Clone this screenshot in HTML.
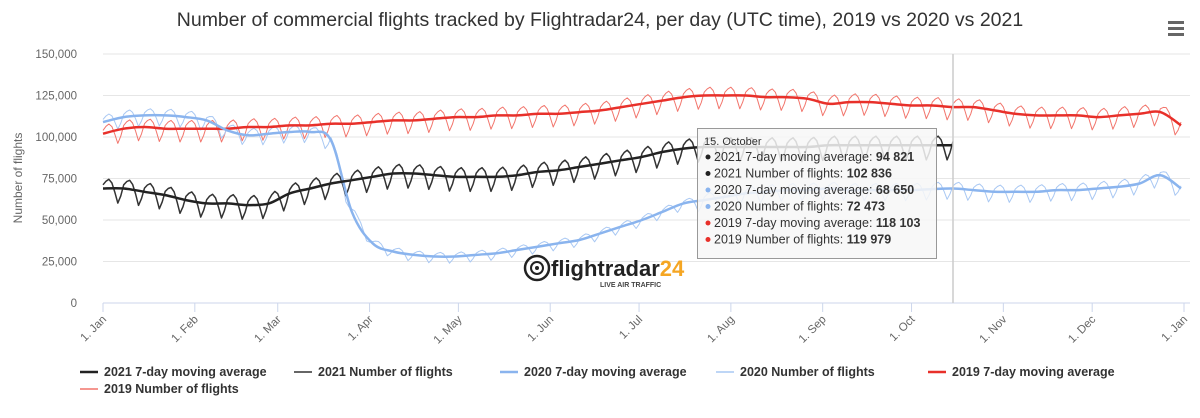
<!DOCTYPE html>
<html><head><meta charset="utf-8"><style>
body{margin:0;background:#fff;font-family:"Liberation Sans",sans-serif;}
svg text{font-family:"Liberation Sans",sans-serif;}
</style></head><body>
<svg id="c" width="1200" height="413" xmlns="http://www.w3.org/2000/svg">
<text x="600" y="26" text-anchor="middle" font-size="19.5" fill="#333">Number of commercial flights tracked by Flightradar24, per day (UTC time), 2019 vs 2020 vs 2021</text>
<g><rect x="1168" y="21" width="16" height="3" fill="#666"/><rect x="1168" y="27" width="16" height="3" fill="#666"/><rect x="1168" y="33" width="16" height="3" fill="#666"/></g>
<text transform="translate(22,178) rotate(-90)" text-anchor="middle" font-size="12" fill="#666">Number of flights</text>
<g id="grid"></g><g id="xax"></g>
<g>
<circle cx="537" cy="268" r="12" fill="none" stroke="#222" stroke-width="2.5"/><circle cx="537" cy="268" r="6" fill="none" stroke="#222" stroke-width="2"/><circle cx="537" cy="268" r="2" fill="#222"/>
<text x="551" y="276" font-size="22" fill="#222" font-weight="bold">flightradar<tspan fill="#f5a623">24</tspan></text>
<text x="600" y="287" font-size="7" fill="#444" font-weight="bold">LIVE AIR TRAFFIC</text></g>
<g id="series"></g>
<line x1="953" y1="54" x2="953" y2="303" stroke="#ccc" stroke-width="1.5"/>
<g>
<rect x="697.5" y="128.5" width="239" height="130" fill="rgba(247,247,247,0.85)" stroke="#999" stroke-width="1"/>
<text x="704" y="145" font-size="11" fill="#333">15. October</text>
<g id="tt"></g></g>
<g id="legend"></g>
</svg>
<script>
const yTicks=[0,25000,50000,75000,100000,125000,150000];
const months=["1. Jan","1. Feb","1. Mar","1. Apr","1. May","1. Jun","1. Jul","1. Aug","1. Sep","1. Oct","1. Nov","1. Dec","1. Jan"];
const monthDays=[0,31,59,90,120,151,181,212,243,273,304,334,365];
// weekly knots (every 7 days), thousands of flights
const ma2019=[102,105,106,105,105,105,105,106,106,107,107,108,108,109,110,110,111,112,112,113,113,114,114,115,116,118,120,122,124,125,125,125,124,124,123,120,121,121,120,119,119,118,118,116,114,113,113,113,112,113,114,115,107];
const ma2020=[109,112,113,113,112,110,104,101,102,103,103,98,55,36,31,29,28,28,29,30,32,34,36,38,42,46,50,55,60,62,64,66,67,68,68,69,68,68,68,68,68.6,69,68,67,67,67,68,68,69,70,72,77,69];
const ma2021=[69,69,67,65,62,60,60,59,60,66,69,72,74,76,78,78,77,76,76,76,77,79,80,82,84,86,88,91,93,94,94,94,94,94,94,95,95,95,95,95,95,95];
const weekdayOffset=[2,4,5,3,-2,-8,-4];
const ttLabels=["2021 7-day moving average: ","2021 Number of flights: ","2020 7-day moving average: ","2020 Number of flights: ","2019 7-day moving average: ","2019 Number of flights: "];
const ttValues=["94 821","102 836","68 650","72 473","118 103","119 979"];
const NS="http://www.w3.org/2000/svg";
const X=d=>103+d*(1081/365), Y=v=>303-v*(249/150000);
function mk(t,a,p){const e=document.createElementNS(NS,t);for(const k in a)e.setAttribute(k,a[k]);p.appendChild(e);return e;}
const grid=document.getElementById('grid');
yTicks.forEach(v=>{
 const l=mk('line',{x1:103,x2:1190,y1:Y(v),y2:Y(v),stroke:v?'#e6e6e6':'#ccd6eb','stroke-width':1},grid);
 
 
 const t=mk('text',{x:77,y:Y(v)+4,'text-anchor':'end','font-size':11.5,fill:'#666'},grid);t.textContent=v.toLocaleString('en-US');
 
 
});
const xax=document.getElementById('xax');
months.forEach((m,i)=>{
 const x=X(monthDays[i]);
 mk('line',{x1:x,x2:x,y1:303,y2:312,stroke:'#ccd6eb'},xax);
 const t=mk('text',{transform:`translate(${x+4},${320}) rotate(-45)`,'text-anchor':'end','font-size':11.5,fill:'#666'},xax);t.textContent=m;
 
 
});
function maAt(arr,d){const i=Math.min(Math.floor(d/7),arr.length-2),f=(d-i*7)/7;return (arr[i]*(1-f)+arr[i+1]*f)*1000;}
function pathPts(pts){return pts.map((p,i)=>(i?'L':'M')+p[0].toFixed(1)+','+p[1].toFixed(1)).join('');}
function smoothPath(p){
 let s='M'+p[0][0].toFixed(1)+','+p[0][1].toFixed(1);
 for(let i=0;i<p.length-1;i++){
  const p0=p[i-1]||p[i],p1=p[i],p2=p[i+1],p3=p[i+2]||p2;
  const c1=[p1[0]+(p2[0]-p0[0])/6,p1[1]+(p2[1]-p0[1])/6],c2=[p2[0]-(p3[0]-p1[0])/6,p2[1]-(p3[1]-p1[1])/6];
  s+=`C${c1[0].toFixed(1)},${c1[1].toFixed(1)} ${c2[0].toFixed(1)},${c2[1].toFixed(1)} ${p2[0].toFixed(1)},${p2[1].toFixed(1)}`;
 }
 return s;
}
const S=document.getElementById('series');
function draw(arr,days,color,w,scale,name,daily){
 const pts=[];let d;
 if(!daily){arr.forEach((v,i)=>{if(i*7<=days)pts.push([X(i*7),Y(v*1000)]);});d=smoothPath(pts);}
 else{for(let k=0;k<=days;k++){const base=maAt(arr,k);const sc=typeof scale==='function'?scale(k):scale;pts.push([X(k),Y(base+weekdayOffset[k%7]*1000*sc)]);}d=pathPts(pts);}
 const p=mk('path',{d:d,fill:'none',stroke:color,'stroke-width':w,'stroke-linejoin':'round'},S);
 
 
}
draw(ma2019,364,'#f2756c',1,1,'series-2019-daily',true);
draw(ma2020,364,'#a9c8f3',1,d=>d>85&&d<200?0.5:0.8,'series-2020-daily',true);
draw(ma2021,287,'#333',1.5,1.1,'series-2021-daily',true);
draw(ma2019,364,'#e8302a',2.5,0,'series-2019-ma',false);
draw(ma2020,364,'#8ab4ee',2.5,0,'series-2020-ma',false);
draw(ma2021,287,'#222',2.5,0,'series-2021-ma',false);
const tt=document.getElementById('tt');
const ttCol=['#222','#222','#8ab4ee','#8ab4ee','#e8302a','#e8302a'];
ttLabels.forEach((l,i)=>{const y=161+i*16.5;
 mk('circle',{cx:708,cy:y-4,r:2.5,fill:ttCol[i]},tt);
 const t=mk('text',{x:714,y:y,'font-size':12.5,fill:'#333'},tt);t.textContent=l;
 const b=mk('tspan',{'font-weight':'bold'},t);b.textContent=ttValues[i];
 
 
});
const lg=document.getElementById('legend');
const legend=[["2021 7-day moving average",'#222',2.5,80,376],["2021 Number of flights",'#333',1.5,294,376],["2020 7-day moving average",'#8ab4ee',2.5,500,376],["2020 Number of flights",'#a9c8f3',1.5,716,376],["2019 7-day moving average",'#e8302a',2.5,928,376],["2019 Number of flights",'#f2756c',1.5,80,393]];
legend.forEach(e=>{
 const g=mk('g',{},lg);
 
 
 mk('line',{x1:e[3],x2:e[3]+18,y1:e[4]-4,y2:e[4]-4,stroke:e[1],'stroke-width':e[2]},g);
 const t=mk('text',{x:e[3]+24,y:e[4],'font-size':12.5,'font-weight':'bold',fill:'#333'},g);t.textContent=e[0];
});
</script>
</body></html>
